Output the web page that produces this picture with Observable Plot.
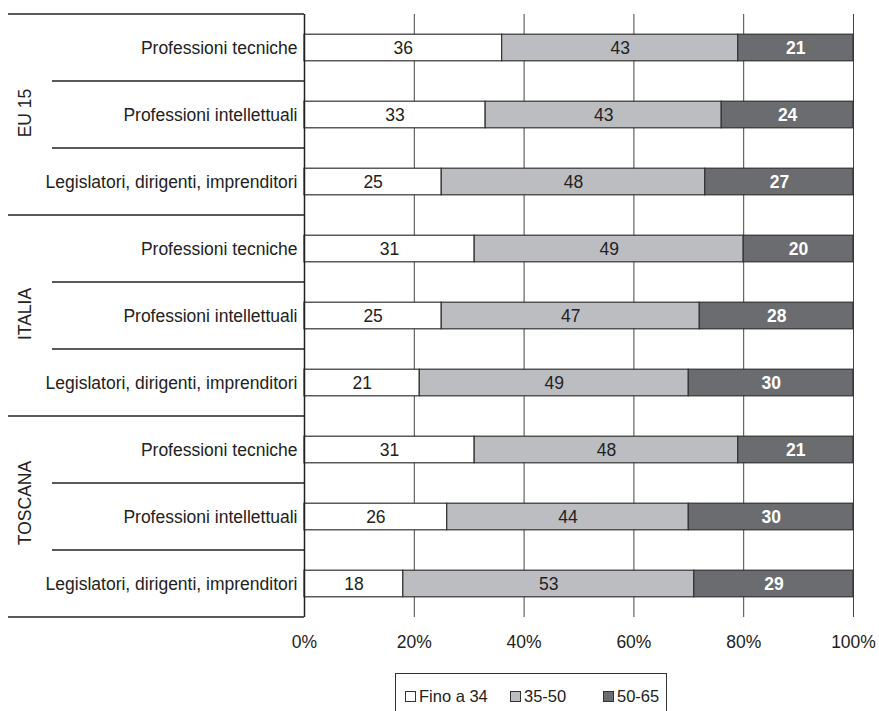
<!DOCTYPE html>
<html>
<head>
<meta charset="utf-8">
<script src="https://cdn.jsdelivr.net/npm/d3@7"></script>
<script src="https://cdn.jsdelivr.net/npm/@observablehq/plot@0.6"></script>
<style>
  body { margin: 0; background: #fff; }
  #wrap { position: relative; width: 879px; height: 711px; }
  #legend { position: absolute; left: 395px; top: 673px; width: 272px; height: 50px; border: 1px solid #333; box-sizing: border-box; color: #222; font-family: "Liberation Sans", Arial, sans-serif; font-size: 16.5px; }
  .item { position: absolute; top: 13px; display: flex; align-items: center; }
  .sw { width: 9px; height: 9px; border: 1px solid #333; margin-right: 3px; }
</style>
</head>
<body>
<div id="wrap"><div id="chart"></div><div id="legend"></div></div>
<script>
const groups = ["EU 15", "ITALIA", "TOSCANA"];
const categories = ["Professioni tecniche", "Professioni intellettuali", "Legislatori, dirigenti, imprenditori"];
const series = ["Fino a 34", "35-50", "50-65"];
const colors = ["#ffffff", "#bcbdc1", "#6b6c70"];
const valFino34 = [36, 33, 25, 31, 25, 21, 31, 26, 18];
const val3550 = [43, 43, 48, 49, 47, 49, 48, 44, 53];
const val5065 = [21, 24, 27, 20, 28, 30, 21, 30, 29];
const xTicks = [0, 20, 40, 60, 80, 100];

const FONT = "'Liberation Sans', Arial, sans-serif", FS = 17.5;

const rowKeys = d3.range(groups.length * categories.length);
const seriesValues = [valFino34, val3550, val5065];
const data = [];
rowKeys.forEach(i => {
  series.forEach((s, j) => {
    data.push({row: i, group: groups[Math.floor(i / 3)], category: categories[i % 3], series: s, value: seriesValues[j][i]});
  });
});
const groupLabels = groups.map((g, k) => ({group: g, row: k * 3 + 1}));

const W = 879, H = 665;
const inset = 20.2;
const stackOpts = {x: "value", y: "row", order: null};

const plot = Plot.plot({
  width: W, height: H,
  marginTop: 14, marginBottom: 48, marginLeft: 304, marginRight: 26,
  style: {fontSize: FS + "px", fontFamily: FONT, color: "#222", background: "#fff"},
  x: {domain: [0, 100], ticks: xTicks, tickFormat: d => d + "%", tickSize: 0, tickPadding: 18, label: null},
  y: {domain: rowKeys, padding: 0, tickSize: 0, tickPadding: 7, tickFormat: i => categories[i % 3], label: null},
  color: {domain: series, range: colors},
  marks: [
    Plot.ruleX(xTicks.filter(d => d > 0), {stroke: "#444", strokeWidth: 1}),
    Plot.barX(data, Plot.stackX({...stackOpts, fill: "series", stroke: "#333", strokeWidth: 1.2, insetTop: inset, insetBottom: inset})),
    Plot.text(data, Plot.stackX({...stackOpts, text: d => d.series !== "50-65" ? String(d.value) : null, fill: "#222", fontSize: FS})),
    Plot.text(data, Plot.stackX({...stackOpts, text: d => d.series === "50-65" ? String(d.value) : null, fill: "#fff", fontWeight: "bold", fontSize: FS})),
    Plot.ruleX([0], {stroke: "#222", strokeWidth: 1.5}),
    Plot.text(groupLabels.slice(0, 2), {y: "row", text: "group", frameAnchor: "left", dx: -279, dy: -2, rotate: -90, textAnchor: "middle", fontSize: FS, fill: "#222"}),
    Plot.text(groupLabels.slice(2), {y: "row", text: "group", frameAnchor: "left", dx: -279, dy: -14, rotate: -90, textAnchor: "middle", fontSize: FS, fill: "#222"})
  ]
});

// row separator lines in the left margin, positioned via the y scale
const ys = plot.scale("y");
const xs = plot.scale("x");
const svg = d3.select(plot);
const x0 = xs.apply(0);
const bounds = rowKeys.map(k => ys.apply(k));
bounds.push(ys.apply(rowKeys[rowKeys.length - 1]) + ys.bandwidth);
bounds.forEach((yy, i) => {
  svg.append("line")
    .attr("x1", i % 3 === 0 ? 8 : 52).attr("x2", x0)
    .attr("y1", yy).attr("y2", yy)
    .attr("stroke", "#222").attr("stroke-width", 1.3);
});

document.getElementById("chart").appendChild(plot);

// legend
const leg = document.getElementById("legend");
const legX = [9, 114, 207];
series.forEach((s, j) => {
  const it = document.createElement("div");
  it.className = "item";
  it.style.left = legX[j] + "px";
  const sw = document.createElement("span");
  sw.className = "sw";
  sw.style.background = colors[j];
  it.appendChild(sw);
  it.appendChild(document.createTextNode(s));
  leg.appendChild(it);
});
</script>
</body>
</html>
